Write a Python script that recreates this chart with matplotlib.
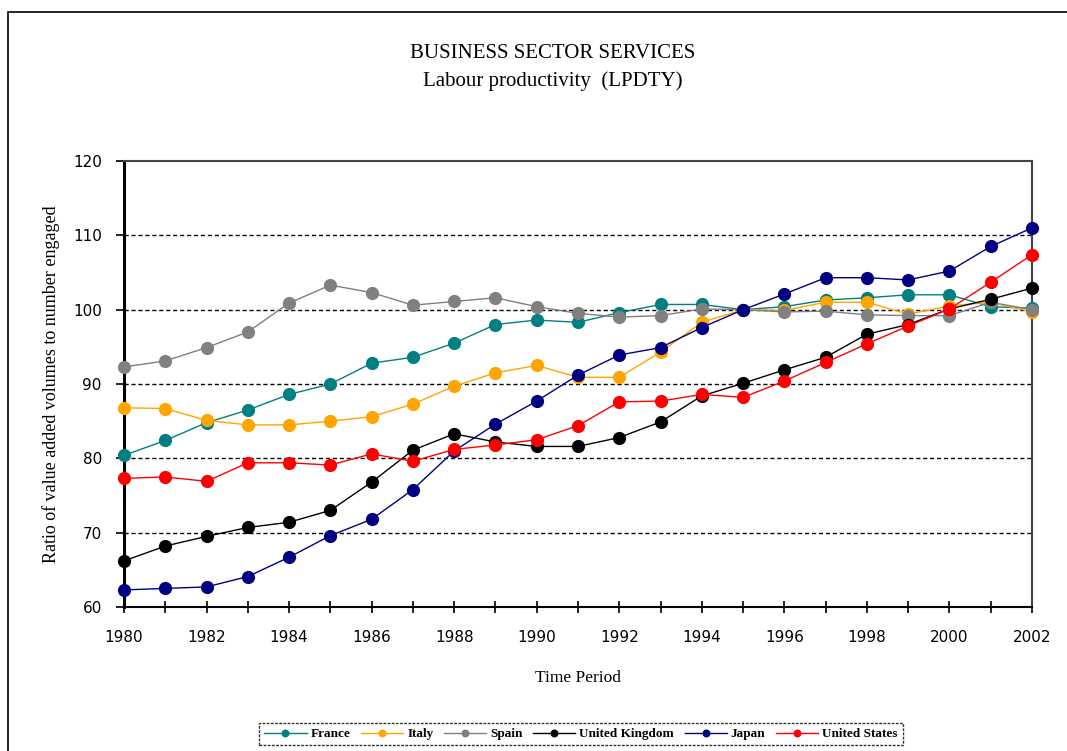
import matplotlib
matplotlib.use('Agg')
import matplotlib.pyplot as plt
from matplotlib.patches import Rectangle

years = list(range(1980, 2003))

france = [80.4, 82.4, 84.8, 86.5, 88.6, 90.0, 92.8, 93.6, 95.5, 98.0, 98.6, 98.3,
          99.6, 100.7, 100.7, 100.0, 100.4, 101.3, 101.6, 102.0, 102.0, 100.4, 100.2]
italy = [86.8, 86.7, 85.1, 84.5, 84.5, 85.0, 85.6, 87.3, 89.7, 91.5, 92.5, 90.9,
         90.9, 94.3, 98.3, 100.0, 99.9, 101.0, 101.0, 99.4, 100.5, 101.0, 99.7]
spain = [92.3, 93.1, 94.9, 97.0, 100.9, 103.3, 102.3, 100.6, 101.1, 101.6, 100.4, 99.5,
         99.0, 99.2, 100.1, 100.0, 99.7, 99.8, 99.3, 99.2, 99.2, 101.0, 100.0]
uk = [66.2, 68.2, 69.5, 70.7, 71.4, 73.0, 76.8, 81.1, 83.3, 82.2, 81.6, 81.6,
      82.8, 84.9, 88.4, 90.1, 91.9, 93.6, 96.7, 98.0, 100.1, 101.4, 102.9]
japan = [62.3, 62.5, 62.7, 64.1, 66.7, 69.6, 71.8, 75.8, 81.0, 84.6, 87.7, 91.2,
         93.9, 94.9, 97.6, 100.0, 102.1, 104.3, 104.3, 104.0, 105.2, 108.5, 111.0]
usa = [77.3, 77.5, 76.9, 79.4, 79.4, 79.1, 80.6, 79.6, 81.2, 81.8, 82.5, 84.4,
       87.6, 87.7, 88.6, 88.2, 90.4, 92.9, 95.4, 97.8, 100.1, 103.7, 107.4]

series = [
    ('France', france, '#008080'),
    ('Italy', italy, '#FFA500'),
    ('Spain', spain, '#808080'),
    ('United Kingdom', uk, '#000000'),
    ('Japan', japan, '#000080'),
    ('United States', usa, '#FF0000'),
]

serif = ['Liberation Serif', 'DejaVu Serif']

fig = plt.figure(figsize=(10.67, 7.51), dpi=100)
ax = fig.add_axes([124 / 1067, 1 - 607 / 751, (1032 - 124) / 1067, (607 - 161) / 751])

# outer frame of the chart area
fig.patches.append(Rectangle((8 / 1067, -0.05), 1.1, 1 - 12 / 751 + 0.05,
                             transform=fig.transFigure, fill=False,
                             edgecolor='black', linewidth=1.2))

for name, vals, col in series:
    ax.plot(years, vals, color=col, linewidth=1.0, marker='o', markersize=9.5,
            markeredgewidth=0, label=name, zorder=3, clip_on=False)

ax.set_xlim(1980, 2002)
ax.set_ylim(60, 120)
ax.set_xticks(range(1980, 2003, 2))
ax.set_xticks(range(1980, 2003), minor=True)
ax.set_yticks(range(60, 121, 10))
ax.tick_params(axis='x', which='both', direction='inout', length=9, width=1.2,
               labelsize=11, pad=12)
ax.tick_params(axis='y', direction='out', length=6, width=1.2, labelsize=11, pad=10)

for y in range(70, 120, 10):
    ax.axhline(y, color='black', linestyle=(0, (3, 2)), linewidth=1.0, zorder=1)

ax.spines['left'].set_linewidth(2.2)
ax.spines['bottom'].set_linewidth(1.5)
ax.spines['top'].set_color('#444444')
ax.spines['right'].set_color('#444444')
ax.spines['top'].set_linewidth(1.5)
ax.spines['right'].set_linewidth(1.5)

ax.set_xlabel('Time Period', family=serif, fontsize=12.5, labelpad=18)
ax.set_ylabel('Ratio of value added volumes to number engaged', family=serif,
              fontsize=13, labelpad=9)

fig.text(553 / 1067, 1 - 53 / 751, 'BUSINESS SECTOR SERVICES', family=serif,
         fontsize=15, ha='center', va='center')
fig.text(553 / 1067, 1 - 81 / 751, 'Labour productivity  (LPDTY)', family=serif,
         fontsize=15, ha='center', va='center')

leg = fig.legend(loc='center', bbox_to_anchor=(581 / 1067, 1 - 734 / 751), ncol=6,
                 prop={'family': serif, 'weight': 'bold', 'size': 9.5},
                 frameon=True, fancybox=False, handlelength=3.2, handletextpad=0.3,
                 columnspacing=0.8, markerscale=0.6, borderpad=0.4)
leg.get_frame().set_edgecolor('black')
leg.get_frame().set_linestyle((0, (2, 1)))
leg.get_frame().set_linewidth(1.0)

fig.savefig('out.png', dpi=100)
